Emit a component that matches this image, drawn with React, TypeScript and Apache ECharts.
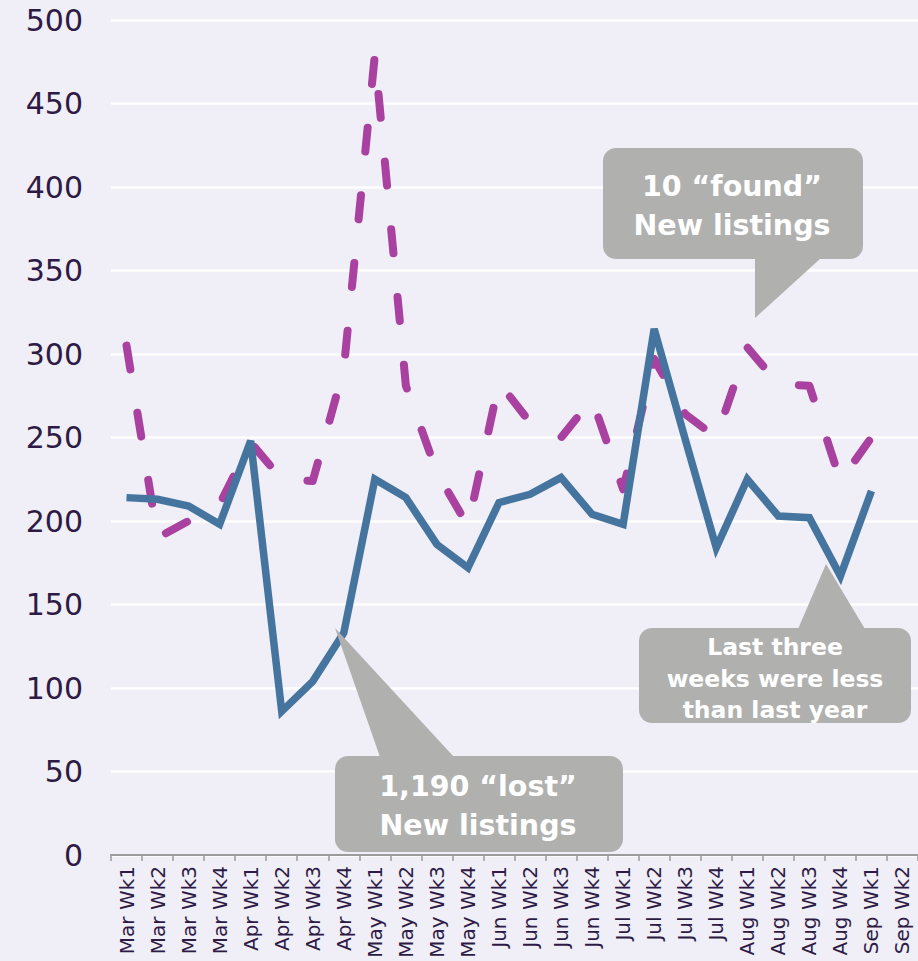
import React, { useEffect, useRef } from "react";
import * as echarts from "echarts";

const categories = [
  "Mar Wk1", "Mar Wk2", "Mar Wk3", "Mar Wk4",
  "Apr Wk1", "Apr Wk2", "Apr Wk3", "Apr Wk4",
  "May Wk1", "May Wk2", "May Wk3", "May Wk4",
  "Jun Wk1", "Jun Wk2", "Jun Wk3", "Jun Wk4",
  "Jul Wk1", "Jul Wk2", "Jul Wk3", "Jul Wk4",
  "Aug Wk1", "Aug Wk2", "Aug Wk3", "Aug Wk4",
  "Sep Wk1", "Sep Wk2",
];

const thisYear = [
  214, 213, 209, 198,
  248, 86, 104, 133,
  225, 214, 186, 172,
  211, 216, 226, 204,
  198, 315, 249, 184,
  225, 203, 202, 167,
  218, null,
];

const lastYear = [
  305, 190, 200, 210,
  247, 225, 224, 291,
  479, 281, 229, 197,
  283, 259, 250, 273,
  219, 297, 264, 250,
  304, 282, 281, 224,
  250, 244,
];

const yTicks = { min: 0, max: 500, interval: 50 };

const foundLines = ["10 \u201cfound\u201d", "New listings"];
const lostLines = ["1,190 \u201clost\u201d", "New listings"];
const lastLines = ["Last three", "weeks were less", "than last year"];

const LABEL = "#2d1b45";
const GREY = "#b0b1af";
const BLUE = "#45759f";
const PURPLE = "#a8419f";

export default function App() {
  const ref = useRef<HTMLDivElement>(null);

  useEffect(() => {
    if (!ref.current) return;
    const chart = echarts.init(ref.current, null, { renderer: "svg" });
    const Z = 100;
    const textLines = (lines: string[], cx: number, y0: number, step: number, size: number) =>
      lines.map((t, i) => ({
        type: "text",
        z: Z + 1,
        x: cx,
        y: y0 + i * step,
        style: {
          text: t,
          fontFamily: "DejaVu Sans",
          fontWeight: "bold",
          fontSize: size,
          fill: "#ffffff",
          align: "center",
          verticalAlign: "middle",
        },
      }));
    chart.setOption({
      animation: false,
      backgroundColor: "#f0eef6",
      grid: { left: 111, top: 20, bottom: 106, width: 815, containLabel: false },
      xAxis: {
        type: "category",
        data: categories,
        boundaryGap: true,
        axisLine: { show: true, lineStyle: { color: "#9b9b9b", width: 2 } },
        axisTick: { show: true, length: 6, lineStyle: { color: "#9b9b9b", width: 1.5 } },
        axisLabel: {
          interval: 0,
          rotate: 90,
          margin: 11,
          color: LABEL,
          fontFamily: "DejaVu Sans",
          fontSize: 20,
        },
        splitLine: { show: false },
      },
      yAxis: {
        type: "value",
        min: yTicks.min,
        max: yTicks.max,
        interval: yTicks.interval,
        axisLine: { show: false },
        axisTick: { show: false },
        axisLabel: {
          margin: 28,
          color: LABEL,
          fontFamily: "DejaVu Sans",
          fontSize: 30,
        },
        splitLine: { show: true, lineStyle: { color: "#ffffff", width: 2.5 } },
      },
      series: [
        {
          name: "Last year",
          type: "line",
          data: lastYear,
          showSymbol: false,
          symbol: "none",
          lineStyle: {
            color: PURPLE,
            width: 8,
            type: [24, 44],
            cap: "round",
            join: "round",
          },
          z: 2,
        },
        {
          name: "This year",
          type: "line",
          data: thisYear,
          showSymbol: false,
          symbol: "none",
          connectNulls: false,
          lineStyle: { color: BLUE, width: 7.5, join: "miter" },
          z: 3,
        },
      ],
      graphic: [
        { type: "rect", z: Z, shape: { x: 603, y: 148, width: 260, height: 111, r: 13 }, style: { fill: GREY } },
        { type: "polygon", z: Z, shape: { points: [[755, 258], [821, 258], [755, 318]] }, style: { fill: GREY } },
        ...textLines(foundLines, 732, 186.5, 38.5, 28.5),
        { type: "rect", z: Z, shape: { x: 335, y: 756, width: 288, height: 96, r: 13 }, style: { fill: GREY } },
        { type: "polygon", z: Z, shape: { points: [[335, 628], [380, 757], [454, 757]] }, style: { fill: GREY } },
        ...textLines(lostLines, 478, 786.5, 38.5, 28.5),
        { type: "rect", z: Z, shape: { x: 639, y: 628, width: 272, height: 95, r: 13 }, style: { fill: GREY } },
        { type: "polygon", z: Z, shape: { points: [[826, 564], [798, 629], [865, 629]] }, style: { fill: GREY } },
        ...textLines(lastLines, 775, 647, 31.5, 23.5),
      ],
    });
    return () => chart.dispose();
  }, []);

  return (
    <div
      ref={ref}
      style={{ position: "absolute", left: 0, top: 0, width: 918, height: 961, overflow: "hidden" }}
    />
  );
}
